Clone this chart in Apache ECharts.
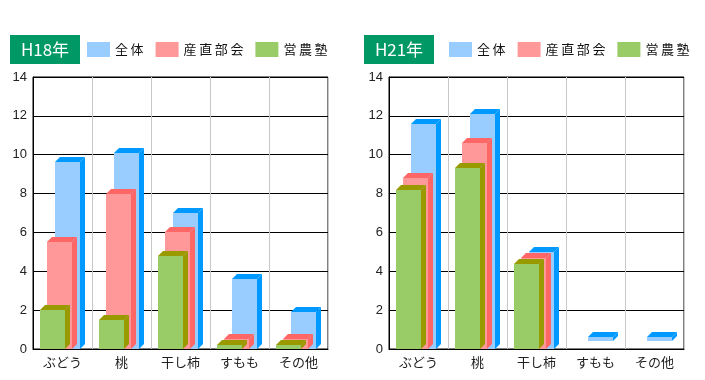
<!DOCTYPE html>
<html><head><meta charset="utf-8">
<script src="https://cdn.jsdelivr.net/npm/echarts@6/dist/echarts.min.js"></script>
<style>html,body{margin:0;padding:0;background:#fff}#c{width:705px;height:380px}</style>
</head><body><div id="c"></div>
<script>
const categories = ['ぶどう', '桃', '干し柿', 'すもも', 'その他'];
const seriesNames = ['全体', '産直部会', '営農塾'];
const yTicks = [0, 2, 4, 6, 8, 10, 12, 14];
const panelTitles = ['H18年', 'H21年'];

const h18All = [9.6, 10.1, 7.0, 3.6, 1.9];
const h18Direct = [5.5, 8.0, 6.0, 0.5, 0.5];
const h18School = [2.0, 1.5, 4.8, 0.2, 0.2];

const h21All = [11.6, 12.1, 5.0, 0.6, 0.6];
const h21AllBase = [0, 0, 0, 0.4, 0.4];
const h21Direct = [8.8, 10.6, 4.7, 0, 0];
const h21School = [8.2, 9.3, 4.4, 0, 0];

const colors = {
  front: ['#99CCFF', '#FF9999', '#99CC66'],
  dark: ['#0099FF', '#FF6666', '#999900']
};

function boxRenderer(depth, front, dark) {
  return function (params, api) {
    const top = api.value(1), low = api.value(2);
    if (!(top > low)) return null;
    const pTop = api.coord([api.value(0), top]);
    const pLow = api.coord([api.value(0), low]);
    const band = api.size([1, 0])[0];
    const w = Math.round(band * 0.424), step = band * 0.127, d = 5;
    const x0 = Math.round(pTop[0] - band * 0.386 + depth * step);
    const x1 = x0 + w, yT = Math.round(pTop[1]), yB = Math.round(pLow[1]);
    return {
      type: 'group', children: [
        { type: 'rect', shape: { x: x0, y: yT, width: w, height: yB - yT }, style: { fill: front } },
        { type: 'polygon', shape: { points: [[x0, yT], [x0 + d, yT - d], [x1 + d, yT - d], [x1, yT]] }, style: { fill: dark } },
        { type: 'polygon', shape: { points: [[x1, yT], [x1 + d, yT - d], [x1 + d, yB - d], [x1, yB]] }, style: { fill: dark } }
      ]
    };
  };
}

function mk(vals, base) {
  return categories.map((c, i) => [i, vals[i], base ? base[i] : 0]);
}

const panels = [
  { left: 33, vals: [h18All, h18Direct, h18School], bases: [null, null, null] },
  { left: 389, vals: [h21All, h21Direct, h21School], bases: [h21AllBase, null, null] }
];

const grids = [], xAxes = [], yAxes = [], series = [], legends = [], graphics = [];
panels.forEach((p, gi) => {
  grids.push({ left: p.left, top: 77, width: 295, height: 272, show: true, borderColor: '#000', borderWidth: 1, backgroundColor: '#fff' });
  xAxes.push({
    type: 'category', gridIndex: gi, data: categories,
    axisLine: { lineStyle: { color: '#000' } }, axisTick: { show: false },
    axisLabel: { fontFamily: 'Noto Sans CJK JP', fontSize: 13, color: '#222', margin: 7 },
    splitLine: { show: true, lineStyle: { color: '#c8c8c8' } }
  });
  yAxes.push({
    type: 'value', gridIndex: gi, min: yTicks[0], max: yTicks[yTicks.length - 1], interval: yTicks[1] - yTicks[0],
    axisLine: { show: true, lineStyle: { color: '#000' } }, axisTick: { show: false },
    axisLabel: { fontFamily: 'Liberation Sans', fontSize: 13, color: '#222', margin: 6 },
    splitLine: { show: true, lineStyle: { color: '#000' } }
  });
  [0, 1, 2].forEach(si => {
    const depth = 2 - si;
    series.push({
      type: 'custom', name: seriesNames[si], xAxisIndex: gi, yAxisIndex: gi,
      itemStyle: { color: colors.front[si] },
      renderItem: boxRenderer(depth, colors.front[si], colors.dark[si]),
      encode: { x: 0, y: 1 },
      data: mk(p.vals[si], p.bases[si]),
      clip: false
    });
  });
  const titleLeft = gi === 0 ? 10 : 364;
  legends.push({
    data: seriesNames, left: gi === 0 ? 87 : 449, top: 42, padding: 0, icon: 'rect',
    itemWidth: 23, itemHeight: 15, itemGap: 12,
    formatter: n => n.split('').join('\u2009'),
    textStyle: { fontFamily: 'Noto Sans CJK JP', fontSize: 13, color: '#111' },
    selectedMode: false
  });
  graphics.push({
    type: 'group', left: titleLeft, top: 35, children: [
      { type: 'rect', shape: { x: 0, y: 0, width: 70, height: 29 }, style: { fill: '#009966' } },
      { type: 'text', x: 35, y: 15, style: { text: panelTitles[gi], fill: '#fff', font: '17px "Noto Sans CJK JP"', align: 'center', verticalAlign: 'middle' } }
    ]
  });
});

const chart = echarts.init(document.getElementById('c'), null, { renderer: 'canvas' });
chart.setOption({
  backgroundColor: '#fff',
  animation: false,
  grid: grids, xAxis: xAxes, yAxis: yAxes, series: series, legend: legends, graphic: graphics
});
</script></body></html>
